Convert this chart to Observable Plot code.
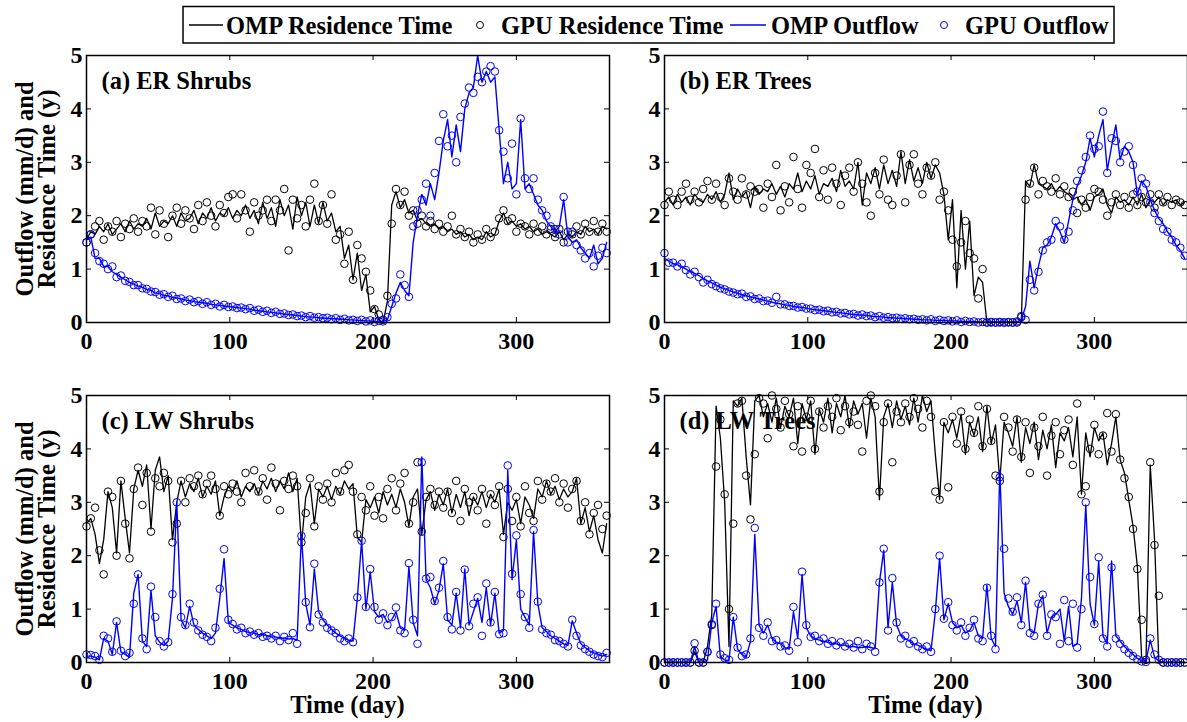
<!DOCTYPE html>
<html><head><meta charset="utf-8">
<script src="https://cdn.jsdelivr.net/npm/d3@7"></script>
<script src="https://cdn.jsdelivr.net/npm/@observablehq/plot@0.6"></script>
<style>
body{margin:0;background:#fff}
#fig{position:relative;width:1187px;height:722px;background:#fff;overflow:hidden;font-family:"Liberation Serif","Times New Roman",serif;font-weight:bold;color:#000}
.ylab{position:absolute;width:320px;height:44px;line-height:22px;font-size:24.5px;text-align:center;transform:rotate(-90deg);white-space:nowrap}
.xlab{position:absolute;width:300px;height:18px;text-align:center;font-size:24.5px;line-height:18px}
</style></head>
<body><div id="fig"></div>
<script>
// ---------------- data (sampled every 3 days: day 0,3,...,363) ----------------
const STEP = 3;
const xTicks = [0, 100, 200, 300];
const yTicks = [0, 1, 2, 3, 4, 5];
const panelTitles = ["(a) ER Shrubs", "(b) ER Trees", "(c) LW Shrubs", "(d) LW Trees"];
const legendLabels = ["OMP Residence Time", "GPU Residence Time", "OMP Outflow", "GPU Outflow"];

// (a) ER Shrubs
const aRT = [1.55,1.70,1.65,1.80,1.70,1.85,1.65,1.75,1.85,1.70,1.90,1.75,
1.85,1.80,1.95,1.75,2.05,1.80,1.90,1.85,2.00,1.80,2.05,1.90,
1.95,2.10,1.85,2.05,1.95,2.15,1.90,2.05,2.00,2.15,1.95,2.10,
2.00,2.20,1.95,2.10,1.85,2.25,1.95,2.15,1.80,2.30,2.00,2.20,
1.75,2.35,2.00,2.25,1.80,2.20,1.85,2.25,1.90,2.05,1.70,1.80,
1.20,1.45,0.80,1.30,0.60,0.90,0.20,0.30,0.05,0.00,0.40,2.20,
2.45,2.15,2.30,2.05,2.10,1.90,1.95,1.85,1.80,1.85,1.75,1.80,
1.70,1.75,1.65,1.70,1.60,1.65,1.55,1.60,1.55,1.70,1.60,1.65,
1.90,2.05,1.85,1.90,1.80,1.85,1.75,1.80,1.70,1.75,1.65,1.70,
1.65,1.60,1.70,1.55,1.65,1.60,1.70,1.65,1.80,1.70,1.75,1.65,
1.80,1.75];
const aRTgpu = [1.50,1.65,1.80,1.90,1.55,1.80,1.70,1.90,1.60,1.85,1.75,1.95,
1.70,1.90,1.80,2.15,1.65,2.10,1.85,1.60,2.00,2.15,1.85,2.10,
1.95,1.75,2.20,1.90,2.25,2.00,1.80,2.20,2.05,2.35,2.40,1.95,
2.40,2.10,1.70,2.25,2.00,2.10,2.30,1.90,2.30,2.10,2.50,1.35,
2.30,1.95,2.20,1.80,2.30,2.60,1.90,2.20,1.85,2.40,1.55,1.65,
1.10,1.70,0.80,1.45,1.20,0.95,0.60,0.25,0.15,0.05,0.50,1.85,
2.50,2.20,2.45,2.00,2.10,1.85,2.00,1.80,1.90,1.75,1.85,1.70,
1.80,2.00,1.65,1.75,1.60,1.70,1.50,1.65,1.55,1.75,1.60,1.70,
1.95,2.10,1.90,1.95,1.70,1.85,1.80,1.65,1.85,1.70,1.80,1.65,
1.75,1.60,1.75,1.50,1.70,1.65,1.80,1.65,1.85,1.70,1.90,1.70,
1.85,1.70];
const aOut = [1.55,1.60,1.20,1.20,1.05,1.05,0.95,0.90,0.85,0.80,0.75,0.72,
0.68,0.66,0.62,0.60,0.55,0.55,0.50,0.50,0.47,0.46,0.44,0.42,
0.41,0.39,0.38,0.37,0.36,0.34,0.33,0.32,0.31,0.30,0.29,0.28,
0.27,0.26,0.25,0.23,0.22,0.21,0.20,0.19,0.18,0.17,0.16,0.15,
0.14,0.13,0.12,0.11,0.10,0.10,0.09,0.08,0.08,0.07,0.07,0.06,
0.06,0.05,0.05,0.04,0.04,0.03,0.03,0.02,0.02,0.02,0.05,0.30,
0.55,0.75,0.60,0.50,1.50,2.00,2.40,2.20,2.60,2.30,2.80,3.40,
3.80,3.10,3.70,3.20,4.00,4.30,4.40,5.00,4.50,4.70,4.50,4.60,
3.60,2.60,3.00,2.50,2.60,3.80,2.50,2.60,2.40,2.20,2.10,1.90,
1.80,1.70,1.80,2.30,1.60,1.50,1.55,1.40,1.30,1.20,1.45,1.10,
1.20,1.50];
const aOutGpu = [1.50,1.65,1.30,1.15,1.10,1.00,1.05,0.85,0.88,0.78,0.76,0.70,
0.70,0.64,0.63,0.58,0.57,0.52,0.53,0.48,0.50,0.44,0.45,0.40,
0.43,0.38,0.40,0.35,0.38,0.33,0.35,0.30,0.33,0.29,0.30,0.27,
0.28,0.25,0.27,0.22,0.24,0.20,0.22,0.18,0.20,0.16,0.17,0.14,
0.15,0.12,0.13,0.10,0.12,0.09,0.10,0.08,0.09,0.06,0.08,0.05,
0.07,0.04,0.05,0.03,0.05,0.02,0.04,0.01,0.03,0.02,0.10,0.35,
0.45,0.90,0.70,0.48,1.80,2.10,2.30,2.60,2.00,2.80,3.40,3.90,
3.30,3.50,3.00,3.85,4.10,4.40,4.30,4.60,4.50,4.70,4.80,4.70,
3.60,3.20,2.70,3.35,2.40,3.82,2.70,2.50,2.70,2.30,2.10,2.00,
1.80,1.75,1.65,2.35,1.50,1.70,1.45,1.35,1.20,1.30,1.05,1.25,
1.40,1.30];

// (b) ER Trees
const bRT = [2.25,2.35,2.20,2.40,2.25,2.35,2.20,2.40,2.30,2.25,2.40,2.30,
2.45,2.25,2.40,2.80,2.30,2.50,2.35,2.45,2.15,2.55,2.40,2.50,
2.45,2.60,2.40,2.55,2.35,2.60,2.50,2.80,2.45,2.65,2.50,2.75,
2.40,2.60,2.55,2.70,2.45,2.85,2.55,2.65,2.50,3.00,2.20,2.80,
2.60,2.90,2.50,2.95,2.60,2.85,2.55,3.20,2.60,3.05,2.65,2.90,
2.60,3.00,2.70,2.95,2.80,2.40,1.55,2.30,0.65,2.10,1.00,1.90,
0.50,0.85,0.75,0.00,0.00,0.00,0.00,0.00,0.00,0.00,0.00,0.00,
2.65,2.55,2.95,2.60,2.55,2.50,2.60,2.45,2.55,2.45,2.40,2.30,
2.35,2.20,2.30,2.10,2.35,2.40,2.50,2.20,2.05,2.35,2.25,2.30,
2.20,2.35,2.20,2.40,2.15,2.30,2.25,2.35,2.20,2.30,2.25,2.30,
2.20,2.25];
const bRTgpu = [2.20,2.45,2.30,2.20,2.45,2.60,2.30,2.45,2.25,2.50,2.65,2.30,
2.60,2.35,2.20,2.70,2.45,2.30,2.70,2.40,2.55,2.45,2.50,2.15,
2.60,2.35,2.95,2.10,2.55,2.25,3.10,2.50,2.15,2.95,2.80,3.25,
2.35,2.85,2.30,2.90,2.60,2.20,2.75,2.90,2.45,3.00,2.60,2.25,
2.00,2.80,2.40,3.05,2.30,2.20,2.75,3.15,2.25,2.95,3.15,2.60,
2.40,2.90,2.75,3.00,2.30,2.45,2.10,1.55,1.05,1.50,1.90,1.30,
1.20,0.45,1.00,0.00,0.00,0.00,0.00,0.00,0.00,0.00,0.00,0.10,
2.30,2.60,2.90,2.40,2.65,2.55,2.45,2.70,2.40,2.55,2.35,2.45,
2.05,2.30,2.15,2.35,2.50,2.45,2.30,2.00,2.25,2.40,2.20,2.35,
2.15,2.40,2.20,2.35,2.25,2.40,2.15,2.40,2.25,2.35,2.20,2.30,
2.25,2.20];
const bOut = [1.20,1.15,1.10,1.08,1.05,1.00,0.95,0.92,0.88,0.82,0.78,0.74,
0.70,0.66,0.63,0.60,0.57,0.55,0.52,0.50,0.48,0.46,0.44,0.42,
0.40,0.38,0.36,0.35,0.33,0.32,0.30,0.29,0.28,0.27,0.25,0.24,
0.23,0.22,0.21,0.20,0.19,0.18,0.17,0.16,0.15,0.14,0.14,0.13,
0.12,0.11,0.11,0.10,0.09,0.09,0.08,0.08,0.07,0.07,0.06,0.06,
0.05,0.05,0.05,0.04,0.04,0.04,0.03,0.03,0.03,0.02,0.02,0.02,
0.02,0.01,0.01,0.01,0.01,0.01,0.01,0.01,0.01,0.01,0.01,0.05,
0.30,1.15,0.65,1.05,1.40,1.45,1.60,1.85,1.70,1.50,1.90,2.30,
2.55,2.75,3.00,3.45,3.10,3.50,3.80,2.85,3.30,3.70,3.05,3.30,
3.20,3.00,2.40,2.65,2.55,2.30,2.10,1.95,1.85,1.70,1.60,1.45,
1.35,1.20];
const bOutGpu = [1.30,1.12,1.12,1.05,1.10,0.98,0.90,0.95,0.85,0.75,0.80,0.72,
0.68,0.64,0.62,0.58,0.56,0.53,0.54,0.48,0.49,0.44,0.45,0.40,
0.41,0.37,0.48,0.34,0.34,0.31,0.31,0.28,0.29,0.26,0.26,0.23,
0.24,0.21,0.22,0.19,0.20,0.17,0.18,0.15,0.16,0.13,0.15,0.12,
0.13,0.10,0.12,0.09,0.10,0.08,0.09,0.07,0.08,0.06,0.07,0.05,
0.06,0.04,0.06,0.03,0.05,0.03,0.04,0.02,0.04,0.01,0.03,0.01,
0.02,0.00,0.01,0.00,0.01,0.00,0.01,0.00,0.01,0.00,0.02,0.12,
0.05,0.80,0.60,0.95,1.35,1.50,1.55,1.90,1.80,1.55,1.70,2.10,
2.65,2.85,3.10,3.50,3.25,3.30,3.95,2.80,3.45,3.40,3.00,3.20,
3.30,2.95,2.45,2.70,2.60,2.25,2.05,1.90,1.75,1.70,1.55,1.50,
1.40,1.25];

// (c) LW Shrubs
const cRT = [2.60,2.70,2.40,1.85,2.30,3.20,2.90,2.05,3.40,2.70,2.05,3.25,
3.60,3.30,3.70,2.50,3.60,3.85,3.20,3.50,2.30,3.00,3.40,3.10,
3.35,3.20,3.45,3.10,3.30,3.15,3.40,2.75,3.10,3.30,3.20,3.40,
3.10,3.30,3.20,3.35,3.15,3.40,3.25,3.45,3.20,3.40,3.25,3.55,
3.20,3.45,2.20,3.10,3.35,2.60,3.25,3.10,3.30,3.05,3.30,3.15,
3.40,3.25,3.35,2.35,2.25,3.05,2.90,3.10,2.80,3.20,2.95,3.15,
2.90,3.25,3.00,2.55,3.10,3.25,2.40,3.05,3.20,2.85,3.15,2.95,
3.25,2.80,3.15,2.90,3.20,2.75,3.10,2.95,3.20,2.90,3.15,3.00,
3.25,2.40,3.00,2.85,3.05,2.60,3.10,2.95,2.70,3.25,3.10,3.40,
3.15,3.30,3.05,3.25,3.10,3.20,3.45,2.60,2.90,2.45,2.75,2.30,
2.05,2.60];
const cRTgpu = [2.55,2.70,2.90,2.10,1.65,3.20,3.10,2.00,3.40,2.60,1.95,3.25,
3.65,2.95,3.55,2.45,3.45,3.30,3.55,3.40,2.25,2.60,3.40,3.00,
3.45,3.30,3.50,3.15,3.35,3.50,3.25,2.75,3.30,3.15,3.35,3.20,
3.00,3.55,3.30,3.60,3.20,3.45,3.05,3.65,3.35,2.85,3.40,3.25,
3.50,3.30,2.25,2.80,3.45,2.55,3.30,3.05,3.35,3.00,3.55,3.20,
3.60,3.70,3.20,2.40,3.10,2.85,3.30,2.75,3.10,2.70,3.25,3.45,
2.85,3.35,3.55,2.60,3.00,3.75,2.45,3.10,3.25,2.95,3.20,2.90,
3.20,2.80,3.40,2.65,3.25,3.00,3.10,2.85,3.25,2.60,3.15,2.95,
3.30,2.35,3.25,2.65,3.10,2.55,3.30,2.80,2.65,3.40,3.05,3.35,
3.20,3.45,3.00,3.35,2.90,3.25,3.40,2.65,3.00,2.40,2.80,2.95,
2.50,2.75];
const cOut = [0.12,0.12,0.10,0.05,0.45,0.40,0.15,0.75,0.20,0.15,0.10,1.30,
1.65,0.40,0.30,1.35,0.50,0.38,0.32,0.40,1.20,3.00,0.80,0.65,
1.05,0.70,0.62,0.55,0.50,0.45,0.55,1.20,1.95,0.75,0.70,0.65,
0.62,0.58,0.56,0.55,0.52,0.52,0.50,0.48,0.48,0.45,0.46,0.44,
0.45,0.42,2.40,1.10,0.70,1.75,0.95,0.80,0.70,0.62,0.55,0.50,
0.45,0.42,0.40,1.20,2.28,1.00,1.70,0.95,0.85,0.90,0.75,0.80,
0.95,0.65,0.60,1.80,0.75,0.50,3.85,1.55,1.40,1.10,1.35,1.85,
0.80,0.70,1.30,0.65,1.75,0.70,0.95,1.20,0.75,1.40,0.70,1.30,
0.55,0.60,3.60,1.55,2.30,1.00,0.85,0.70,2.45,1.10,0.65,0.58,
0.50,0.45,0.40,0.35,0.32,0.78,0.55,0.35,0.28,0.22,0.18,0.15,
0.12,0.15];
const cOutGpu = [0.15,0.14,0.12,0.05,0.50,0.45,0.20,0.77,0.22,0.12,0.18,1.10,
1.65,0.45,0.25,1.42,0.85,0.40,0.30,0.38,1.28,3.00,0.85,0.70,
1.10,0.75,0.60,0.52,0.48,0.40,0.65,1.38,2.12,0.80,0.72,0.62,
0.65,0.55,0.58,0.52,0.55,0.48,0.50,0.45,0.50,0.40,0.48,0.42,
0.55,0.35,2.37,1.13,0.66,1.85,0.90,0.75,0.65,0.60,0.55,0.45,
0.40,0.45,0.38,1.22,2.28,1.04,1.75,1.04,0.80,0.92,0.70,0.85,
1.03,0.60,0.55,1.86,0.80,0.35,3.75,1.57,1.60,1.15,1.40,1.90,
0.85,0.62,1.32,0.60,1.74,0.68,1.10,1.22,0.50,1.48,0.75,1.32,
0.53,0.55,3.69,1.66,2.38,1.28,0.85,0.65,2.48,1.14,0.62,0.55,
0.52,0.42,0.40,0.35,0.30,0.80,0.50,0.32,0.25,0.20,0.15,0.12,
0.10,0.18];

// (d) LW Trees
const dRT = [0,0,0,0,0,0,0,0.20,0,0,0.30,0.90,
4.80,4.20,3.00,0.30,4.90,4.80,4.95,3.85,2.95,4.90,5.00,4.60,
4.85,4.50,4.95,4.40,4.80,4.60,4.95,4.10,4.85,4.55,4.90,3.90,
4.75,4.50,4.95,4.30,4.85,4.60,5.00,4.40,4.90,4.65,4.85,4.20,
4.95,4.60,3.05,4.60,4.85,4.40,4.90,4.55,4.80,4.45,4.95,4.50,
5.00,4.70,4.90,3.90,3.05,4.50,4.30,4.55,4.20,4.65,3.90,4.50,
4.25,4.60,3.95,4.80,4.10,4.45,3.40,4.50,4.30,4.05,4.60,3.75,
4.40,4.10,4.50,3.80,4.35,4.00,4.45,3.65,4.30,4.15,4.40,3.85,
4.60,3.15,4.30,3.85,4.40,4.15,4.30,3.70,4.10,4.60,3.80,3.55,
3.05,2.55,1.80,0.10,0,3.70,2.30,0,0,0,0,0,
0,0];
const dRTgpu = [0,0,0,0,0,0,0,0.22,0,0,0.20,0.70,
3.67,4.55,3.15,1.00,2.60,4.85,4.90,3.50,2.68,3.90,4.95,4.85,
4.20,5.00,4.75,4.40,4.90,4.65,4.05,4.80,3.95,4.60,4.90,4.00,
4.70,4.40,4.80,4.60,4.95,4.35,4.80,4.50,4.70,4.45,3.95,4.90,
5.00,4.80,3.20,4.50,4.85,3.75,4.70,4.50,4.85,4.60,4.95,4.75,
4.40,4.90,4.60,3.20,3.05,4.50,3.28,4.60,4.10,4.70,4.00,4.55,
4.30,4.80,4.05,4.75,4.15,3.50,3.40,4.60,4.40,3.95,4.55,3.85,
4.50,3.55,4.40,4.05,4.60,3.50,4.25,4.50,3.90,4.35,4.55,3.70,
4.85,3.15,3.30,4.00,4.45,3.90,4.25,4.67,3.95,4.65,3.80,3.45,
3.10,2.50,1.75,0.80,0.05,3.75,2.20,1.25,0,0,0,0,
0,0];
const dOut = [0,0,0,0,0,0,0,0.30,0,0,0.05,0.75,
1.05,0.10,0.05,0.03,0.85,0.25,0.15,0.10,0.40,2.40,0.70,0.55,
0.70,0.45,0.38,0.35,0.28,0.25,0.95,0.45,1.65,0.65,0.50,0.45,
0.42,0.40,0.38,0.36,0.35,0.33,0.32,0.30,0.30,0.28,0.28,0.30,
0.28,0.26,1.50,2.10,0.65,1.50,0.70,0.50,0.45,0.40,0.35,0.32,
0.28,0.25,0.22,0.95,1.95,0.80,1.10,0.75,0.65,0.70,0.55,0.60,
0.75,0.50,0.45,1.45,0.45,0.30,3.60,1.30,1.05,0.90,1.15,0.75,
1.50,0.60,0.55,1.10,1.25,0.55,0.85,0.90,1.00,0.40,1.05,0.30,
0.35,1.20,2.95,1.10,0.70,1.90,0.50,0.35,1.90,0.50,0.40,0.30,
0.22,0.15,0.08,0.03,0.02,0.42,0.10,0.03,0,0,0,0,
0,0];
const dOutGpu = [0,0,0,0,0,0,0,0.36,0,0,0.20,0.72,
1.10,0.15,0.08,0.05,0.85,0.28,0.12,0.15,0.45,2.52,0.65,0.50,
0.75,0.40,0.42,0.30,0.32,0.22,1.04,0.38,1.70,0.70,0.48,0.50,
0.40,0.45,0.35,0.40,0.32,0.38,0.30,0.35,0.28,0.40,0.25,0.35,
0.30,0.20,1.50,2.13,0.60,1.58,0.75,0.45,0.50,0.35,0.40,0.30,
0.25,0.30,0.20,1.00,2.00,0.82,1.13,0.70,0.60,0.75,0.50,0.65,
0.80,0.45,0.40,1.40,0.50,0.25,3.47,2.13,1.20,0.95,1.22,0.70,
1.53,0.55,0.50,1.10,1.27,0.50,0.90,0.85,0.35,1.17,0.40,1.10,
0.28,1.00,3.00,1.60,0.72,1.97,0.45,0.30,1.78,0.45,0.35,0.25,
0.18,0.12,0.06,0.02,0.01,0.45,0.15,0.05,0,0,0,0,
0,0];

// ---------------- layout ----------------
const FONT = '"Liberation Serif","Times New Roman",serif';
const FW = 523, FH = 267;            // frame size
const ML = 44, MR = 6, MT = 8, MB = 30;
const BLACK = "#000000", BLUE = "#0000ff";
const fig = document.getElementById("fig");

function rows(arr) { return arr.map((v, i) => ({day: i * STEP, v})); }

function panel(title, rt, rtg, out, outg, frameLeft, frameTop) {
  const svg = Plot.plot({
    width: ML + FW + MR, height: MT + FH + MB,
    marginLeft: ML, marginRight: MR, marginTop: MT, marginBottom: MB,
    style: `font-family:${FONT};font-size:24px;font-weight:bold;background:transparent;overflow:visible;color:#000`,
    x: {domain: [0, 365], label: null},
    y: {domain: [0, 5], label: null},
    marks: [
      Plot.text([title], {frameAnchor: "top-left", dx: 15, dy: 26, textAnchor: "start", lineAnchor: "middle", fontSize: 24.5, fontWeight: "bold", fill: BLACK}),
      Plot.line(rows(rt), {x: "day", y: "v", stroke: BLACK, strokeWidth: 1.3, clip: true}),
      Plot.dot(rows(rtg), {x: "day", y: "v", r: 3.8, stroke: BLACK, strokeWidth: 1, fill: "none"}),
      Plot.line(rows(out), {x: "day", y: "v", stroke: BLUE, strokeWidth: 1.4, clip: true}),
      Plot.dot(rows(outg), {x: "day", y: "v", r: 3.8, stroke: BLUE, strokeWidth: 1, fill: "none"}),
      Plot.tickX(xTicks, {x: d => d, insetTop: FH - 5, stroke: BLACK}),
      Plot.tickX(xTicks, {x: d => d, insetBottom: FH - 5, stroke: BLACK}),
      Plot.tickY(yTicks, {y: d => d, insetRight: FW - 5, stroke: BLACK}),
      Plot.tickY(yTicks, {y: d => d, insetLeft: FW - 5, stroke: BLACK}),
      Plot.axisX(xTicks, {anchor: "bottom", tickSize: 0, tickPadding: 9, tickFormat: d => String(d), label: null, fill: BLACK}),
      Plot.axisY(yTicks, {anchor: "left", tickSize: 0, tickPadding: 4, tickFormat: d => String(d), label: null, fill: BLACK}),
      Plot.frame({stroke: BLACK, strokeWidth: 1.5})
    ]
  });
  svg.style.position = "absolute";
  svg.style.left = (frameLeft - ML) + "px";
  svg.style.top = (frameTop - MT) + "px";
  fig.appendChild(svg);
}

panel(panelTitles[0], aRT, aRTgpu, aOut, aOutGpu, 86, 55);
panel(panelTitles[1], bRT, bRTgpu, bOut, bOutGpu, 664, 55);
panel(panelTitles[2], cRT, cRTgpu, cOut, cOutGpu, 86, 395);
panel(panelTitles[3], dRT, dRTgpu, dOut, dOutGpu, 664, 395);

// y-axis labels (two lines, rotated)
for (const cy of [188.5, 528.5]) {
  const d = document.createElement("div");
  d.className = "ylab";
  d.style.left = (36 - 160) + "px";
  d.style.top = (cy - 22) + "px";
  d.innerHTML = "Outflow (mm/d) and<br>Residence Time (y)";
  fig.appendChild(d);
}
// x-axis labels
for (const cx of [347.5, 925.5]) {
  const d = document.createElement("div");
  d.className = "xlab";
  d.style.left = (cx - 150) + "px";
  d.style.top = (705 - 9) + "px";
  d.textContent = "Time (day)";
  fig.appendChild(d);
}

// legend
const NS = "http://www.w3.org/2000/svg";
const lg = document.createElementNS(NS, "svg");
lg.setAttribute("width", 934); lg.setAttribute("height", 44);
lg.style.position = "absolute"; lg.style.left = "182px"; lg.style.top = "4px";
lg.style.fontFamily = FONT; lg.style.fontWeight = "bold"; lg.style.fontSize = "24.5px";
function el(tag, attrs, text) {
  const e = document.createElementNS(NS, tag);
  for (const k in attrs) e.setAttribute(k, attrs[k]);
  if (text) e.textContent = text;
  lg.appendChild(e); return e;
}
el("rect", {x: 1, y: 2.5, width: 931, height: 36.5, fill: "#fff", stroke: "#000", "stroke-width": 1.5});
const cyL = 21;
el("line", {x1: 7, x2: 41, y1: cyL, y2: cyL, stroke: BLACK, "stroke-width": 1.3});
el("text", {x: 44, y: cyL, "dominant-baseline": "central"}, legendLabels[0]);
el("circle", {cx: 298, cy: cyL, r: 3.5, fill: "none", stroke: BLACK});
el("text", {x: 319, y: cyL, "dominant-baseline": "central"}, legendLabels[1]);
el("line", {x1: 548, x2: 584, y1: cyL, y2: cyL, stroke: BLUE, "stroke-width": 1.3});
el("text", {x: 589, y: cyL, "dominant-baseline": "central"}, legendLabels[2]);
el("circle", {cx: 762, cy: cyL, r: 3.5, fill: "none", stroke: BLUE});
el("text", {x: 783, y: cyL, "dominant-baseline": "central"}, legendLabels[3]);
fig.appendChild(lg);
</script>
</body></html>
